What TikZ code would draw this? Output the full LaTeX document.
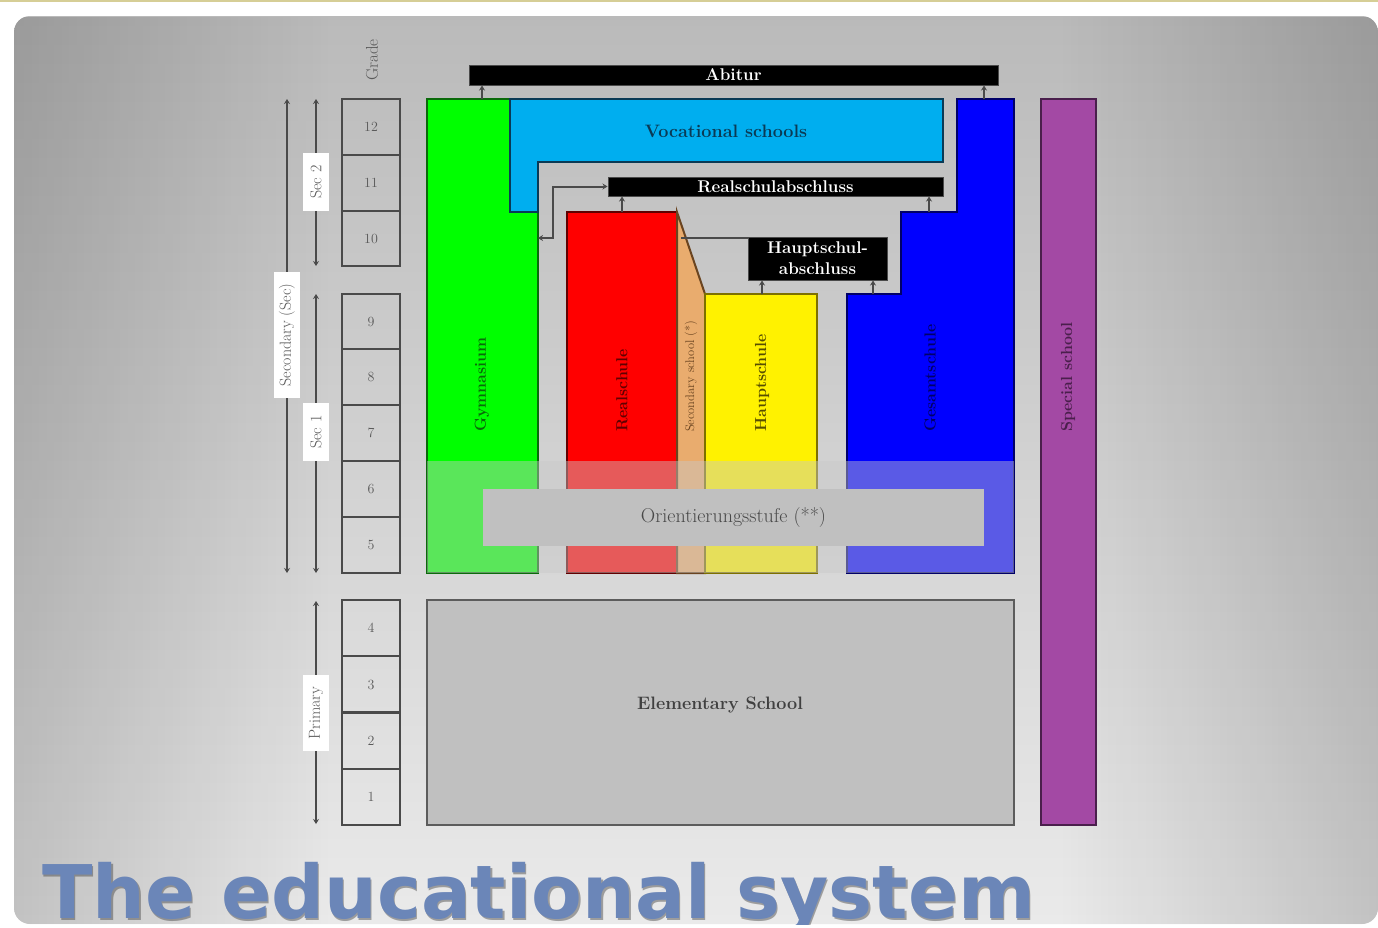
\documentclass[tikz,border=0pt]{standalone}
\usepackage{fontspec}
\newfontfamily\titlefont{DejaVu Sans}
\usetikzlibrary{arrows.meta,fadings}
\definecolor{gline}{HTML}{4A4A4A}
\definecolor{gtext}{HTML}{5A5A5A}
\definecolor{gymg}{HTML}{00FF00}
\definecolor{gymd}{HTML}{0A6A0A}
\definecolor{voc}{HTML}{00AEEF}
\definecolor{vocd}{HTML}{0A3A55}
\definecolor{reds}{HTML}{FF0000}
\definecolor{redd}{HTML}{600000}
\definecolor{orng}{HTML}{E9AC6E}
\definecolor{orngd}{HTML}{6A4420}
\definecolor{yel}{HTML}{FFF200}
\definecolor{yeld}{HTML}{7D7000}
\definecolor{blu}{HTML}{0000FF}
\definecolor{blud}{HTML}{000068}
\definecolor{purp}{HTML}{A349A4}
\definecolor{purpd}{HTML}{4A1F4C}
\definecolor{elem}{HTML}{C0C0C0}
\definecolor{titleblue}{HTML}{6B86B8}
\definecolor{topline}{HTML}{D6CE96}
\definecolor{pTop}{HTML}{BABABA}
\definecolor{pMid}{HTML}{D9D9D9}
\definecolor{pBot}{HTML}{EAEAEA}
\definecolor{bandgray}{HTML}{C8C8C8}
\begin{document}
\begin{tikzpicture}[x=1pt,y=-1pt,
  gradebox/.style={draw=gline, line width=2pt, minimum width=58pt, inner sep=0pt, outer sep=0pt, text=gtext, font=\fontsize{14}{16}\selectfont},
  sidelab/.style={fill=white, text=gtext, rotate=90, font=\fontsize{16}{18}\selectfont, inner xsep=12pt, minimum height=26pt, inner ysep=0pt},
  conn/.style={draw=gline, line width=2pt},
  tip/.style={-{Stealth[length=5pt,width=6pt]}},
  dtip/.style={{Stealth[length=5pt,width=6pt]}-{Stealth[length=5pt,width=6pt]}},
  blackbar/.style={fill=black, draw=gline, line width=1pt, text=white, inner sep=0pt, font=\bfseries\fontsize{17}{21}\selectfont},
  blk/.style={line width=2pt},
  vlab/.style={rotate=90, anchor=west, inner sep=0pt, font=\bfseries\fontsize{16}{18}\selectfont}
]
\useasboundingbox (0,0) rectangle (1378,927);
\fill[white] (0,0) rectangle (1378,927);
\draw[topline, line width=1.5pt] (0,0.75) -- (1378,0.75);
% panel
\begin{scope}
  \clip[rounded corners=16pt] (14,16) rectangle (1378,924);
  \shade[top color=pTop, middle color=pMid, bottom color=pBot] (14,16) rectangle (1378,924);
  \fill[black, opacity=0.17, path fading=east] (14,16) rectangle (330,924);
  \fill[black, opacity=0.17, path fading=west] (1060,16) rectangle (1378,924);
  \node[anchor=base west, inner sep=0pt, text=black!75, opacity=0.45, font=\titlefont\bfseries\fontsize{74}{80}\selectfont] (titleshadow) at (43.5,920.5) {The educational system};
  \node[anchor=base west, inner sep=0pt, text=titleblue, font=\titlefont\bfseries\fontsize{74}{80}\selectfont] (title) at (42,918) {The educational system};
\end{scope}

% grade column
\node[rotate=90, text=gtext, font=\fontsize{17}{19}\selectfont] (gradehead) at (372,60) {Grade};
\foreach \n/\y/\h in {12/127/55.7, 11/183/55.7, 10/238.5/55.7, 9/321.5/55.8, 8/377.3/55.8, 7/433.1/55.8, 6/488.9/55.8, 5/544.7/55.8, 4/628/56.25, 3/684.5/56.25, 2/740.6/56.25, 1/796.9/56.25}
  \node[gradebox, minimum height=\h pt] (g\n) at (371,\y) {\n};

% left brackets
\coordinate (secT) at (287,99); \coordinate (secB) at (287,573);
\draw[conn, dtip] (secT) -- (secB);
\node[sidelab] (seclab) at (287,335) {Secondary (Sec)};
\coordinate (s2T) at (316,99); \coordinate (s2B) at (316,266);
\draw[conn, dtip] (s2T) -- (s2B);
\node[sidelab] (s2lab) at (316,182) {Sec 2};
\coordinate (s1T) at (316,294); \coordinate (s1B) at (316,573);
\draw[conn, dtip] (s1T) -- (s1B);
\node[sidelab] (s1lab) at (316,432) {Sec 1};
\coordinate (prT) at (316,601); \coordinate (prB) at (316,824);
\draw[conn, dtip] (prT) -- (prB);
\node[sidelab] (prlab) at (316,713) {Primary};

% school blocks
\filldraw[blk, fill=gymg, draw=gymd] (427,99) -- (510,99) -- (510,212) -- (538,212) -- (538,573) -- (427,573) -- cycle;
\filldraw[blk, fill=voc, draw=vocd] (510,99) -- (943,99) -- (943,162) -- (538,162) -- (538,212) -- (510,212) -- cycle;
\filldraw[blk, fill=reds, draw=redd] (567,212) rectangle (677,573);
\filldraw[blk, fill=orng, draw=orngd] (677,212) -- (705,294) -- (705,573) -- (677,573) -- cycle;
\filldraw[blk, fill=yel, draw=yeld] (705,294) rectangle (817,573);
\filldraw[blk, fill=blu, draw=blud] (957,99) -- (1014,99) -- (1014,573) -- (847,573) -- (847,294) -- (901,294) -- (901,212) -- (957,212) -- cycle;
\filldraw[blk, fill=purp, draw=purpd] (1041,99) rectangle (1096,825);
\filldraw[blk, fill=elem, draw=gline!90] (427,600) rectangle (1014,825);

% labels in blocks
\node[font=\bfseries\fontsize{18}{20}\selectfont, text=vocd] (voclab) at (726,131) {Vocational schools};
\node[vlab, text=gymd] (gymlab) at (482,432) {Gymnasium};
\node[vlab, text=redd] (reallab) at (622,432) {Realschule};
\node[vlab, text=orngd, font=\fontsize{12.5}{14}\selectfont] (seclab2) at (691,432) {Secondary school (*)};
\node[vlab, text=yeld!70!black] (hauptlab) at (762,432) {Hauptschule};
\node[vlab, text=blud] (gesamtlab) at (930,432) {Gesamtschule};
\node[vlab, text=purpd] (speclab) at (1068,432) {Special school};
\node[font=\bfseries\fontsize{18}{20}\selectfont, text=black!75] (elemlab) at (720,705) {Elementary School};

% orientation band
\fill[bandgray, opacity=0.45] (427,461) rectangle (1014,573);
\node[fill=elem, minimum width=501pt, minimum height=57pt, inner sep=0pt, text=gtext!80!black, font=\fontsize{20}{22}\selectfont] (orient) at (733.5,517.5) {Orientierungsstufe (**)};

% qualification bars
\node[blackbar, minimum width=529pt, minimum height=20pt] (abitur) at (733.5,75) {Abitur};
\node[blackbar, minimum width=335pt, minimum height=19pt] (realab) at (775.5,186.5) {Realschulabschluss};
\node[blackbar, minimum width=139pt, minimum height=43pt, align=center] (hauptab) at (817.5,258.5) {Hauptschul-\\abschluss};

% connectors
\coordinate (gymA) at (482,99);
\coordinate (gesA) at (984,99);
\draw[conn, tip] (gymA) -- (gymA |- abitur.south);
\draw[conn, tip] (gesA) -- (gesA |- abitur.south);
\coordinate (realR) at (622,212);
\coordinate (gesR) at (929,212);
\draw[conn, tip] (realR) -- (realR |- realab.south);
\draw[conn, tip] (gesR) -- (gesR |- realab.south);
\coordinate (gymR) at (538,238);
\draw[conn, dtip] (realab.west) -- (553,186.5) -- (553,238) -- (gymR);
\coordinate (secH) at (681,238);
\draw[conn] (secH) -- (secH -| hauptab.west);
\coordinate (hauH) at (762,294);
\coordinate (gesH) at (873,294);
\draw[conn, tip] (hauH) -- (hauH |- hauptab.south);
\draw[conn, tip] (gesH) -- (gesH |- hauptab.south);
\end{tikzpicture}
\end{document}
